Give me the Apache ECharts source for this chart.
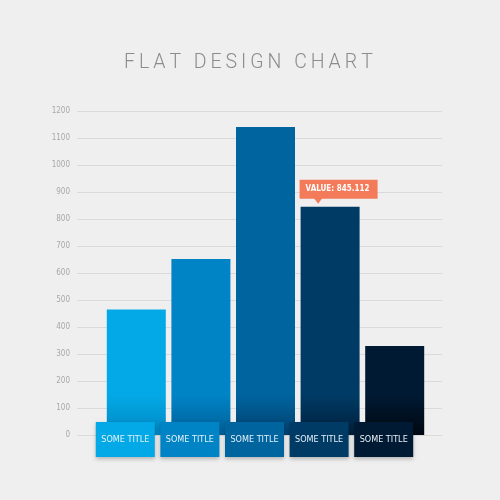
<!DOCTYPE html>
<html>
<head>
<meta charset="utf-8">
<script src="https://cdn.jsdelivr.net/npm/echarts@6/dist/echarts.min.js"></script>
<style>
  html, body { margin: 0; padding: 0; background: #efefef; }
  #pic { width: 500px; height: 500px; }
</style>
</head>
<body>
<div id="pic"></div>
<script>
var titleText = 'FLAT DESIGN CHART';
var categories = ['SOME TITLE', 'SOME TITLE', 'SOME TITLE', 'SOME TITLE', 'SOME TITLE'];
var values = [465, 652, 1141, 845.112, 330];
var barColors = ['#03a9e6', '#0084c6', '#00649f', '#003b65', '#001a33'];
var barDark = ['#0088c4', '#005f98', '#00406e', '#001f3d', '#000812'];
var highlightIndex = 3;
var yTicks = [0, 1200, 100];

var myChart = echarts.init(document.getElementById('pic'));

var rich = {};
barColors.forEach(function(c, i) {
    rich['b' + i] = {
        backgroundColor: c,
        color: '#e6f2fa',
        width: 59,
        height: 35,
        lineHeight: 35,
        align: 'center',
        fontSize: 9,
        fontFamily: 'DejaVu Sans Condensed',
        shadowColor: 'rgba(0,0,0,0.25)',
        shadowBlur: 4,
        shadowOffsetY: 2
    };
});

var spaced = titleText.split('').join('\u200a\u200a');

option = {
    backgroundColor: '#efefef',
    title: {
        text: spaced,
        left: 119,
        top: 48,
        textStyle: {
            color: '#8c8c8c',
            fontSize: 19.5,
            fontWeight: 300,
            fontFamily: 'Roboto'
        }
    },
    grid: [
        { left: 77, right: 58, top: 111, bottom: 65 },
        { left: 104, right: 73, top: 111, bottom: 65 }
    ],
    xAxis: [{
        gridIndex: 0,
        type: 'category',
        data: categories,
        show: false
    }, {
        gridIndex: 1,
        type: 'category',
        data: categories,
        axisLine: { show: false },
        axisTick: { show: false },
        axisLabel: {
            interval: 0,
            hideOverlap: false,
            margin: -13,
            padding: [0, 22, 0, 0],
            formatter: function(v, i) { return '{b' + i + '|' + v + '}'; },
            rich: rich
        },
        z: 10
    }],
    yAxis: [{
        gridIndex: 0,
        type: 'value',
        min: yTicks[0],
        max: yTicks[1],
        interval: yTicks[2],
        axisLine: { show: false },
        axisTick: { show: false },
        axisLabel: {
            margin: 7,
            color: '#a8a8a8',
            fontSize: 8,
            fontFamily: 'DejaVu Sans Condensed',
            formatter: function(v) { return String(v); }
        },
        splitLine: { lineStyle: { color: '#dadada', width: 1 } }
    }, {
        gridIndex: 1,
        type: 'value',
        min: yTicks[0],
        max: yTicks[1],
        interval: yTicks[2],
        show: false
    }],
    series: [{
        type: 'bar',
        xAxisIndex: 1,
        yAxisIndex: 1,
        barWidth: 59,
        data: values.map(function(v, i) {
            var item = {
                value: v,
                itemStyle: {
                    color: new echarts.graphic.LinearGradient(0, 395, 0, 435, [
                        { offset: 0, color: barColors[i] },
                        { offset: 1, color: barDark[i] }
                    ], true)
                }
            };
            if (i === highlightIndex) {
                item.label = {
                    show: true,
                    position: [-1, -27],
                    formatter: 'VALUE: {c}',
                    backgroundColor: '#f47b5a',
                    color: '#ffffff',
                    fontSize: 8,
                    fontWeight: 'bold',
                    fontFamily: 'DejaVu Sans Condensed',
                    padding: [5, 6, 5, 6],
                    width: 66,
                    height: 9
                };
            }
            return item;
        }),
        markPoint: {
            silent: true,
            symbol: 'triangle',
            symbolSize: [9, 6],
            symbolRotate: 180,
            symbolOffset: [-12, -6],
            label: { show: false },
            itemStyle: { color: '#f47b5a' },
            data: [{ coord: [highlightIndex, values[highlightIndex]] }]
        }
    }]
};
myChart.setOption(option);
</script>
</body>
</html>
